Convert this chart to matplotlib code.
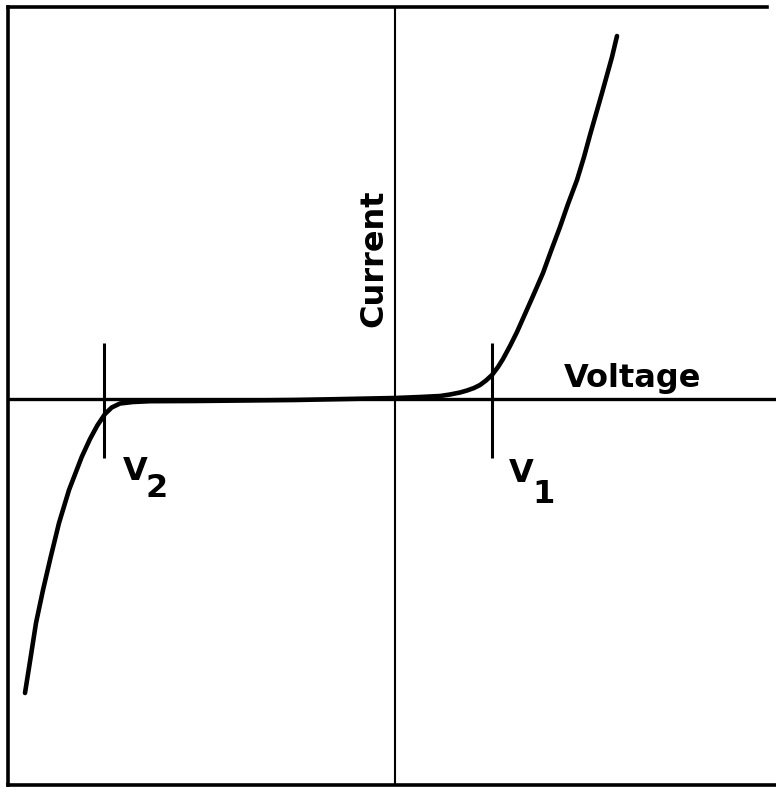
import matplotlib
matplotlib.use("Agg")
import matplotlib.pyplot as plt

# I-V curve of the device (arbitrary units), read point by point
voltage = [-3.70, -3.643, -3.59, -3.52, -3.443, -3.36, -3.26, -3.133,
           -3.05, -2.977, -2.90, -2.833, -2.75, -2.62, -2.45, -2.00,
           -1.00, 0.00, 0.25, 0.45, 0.55, 0.65, 0.72, 0.79, 0.85, 0.91,
           0.97, 1.03, 1.08, 1.15, 1.22, 1.30, 1.38, 1.48, 1.56, 1.65,
           1.73, 1.82, 1.89, 1.95, 2.01, 2.07, 2.12, 2.17, 2.22]
current = [-2.94, -2.58, -2.24, -1.91, -1.58, -1.24, -0.91, -0.58,
           -0.40, -0.265, -0.15, -0.085, -0.045, -0.03, -0.022, -0.02,
           -0.01, 0.01, 0.02, 0.03, 0.045, 0.065, 0.085, 0.11, 0.14,
           0.185, 0.24, 0.32, 0.40, 0.53, 0.67, 0.85, 1.03, 1.26, 1.48,
           1.72, 1.95, 2.19, 2.42, 2.64, 2.85, 3.06, 3.24, 3.42, 3.63]

# breakdown voltages marked on the curve
v_marks = [-2.91, 0.97]
v_labels = ["V", "V"]
v_subs = ["2", "1"]

x_label = "Voltage"
y_label = "Current"

fig = plt.figure(figsize=(7.76, 7.88), dpi=100)
ax = fig.add_axes([8 / 776, 3 / 788, 768 / 776, 778 / 788])
ax.set_xlim(-3.87, 3.81)
ax.set_ylim(-3.86, 3.92)
ax.set_xticks([])
ax.set_yticks([])

for side in ["left", "top", "bottom"]:
    ax.spines[side].set_linewidth(2.6)
ax.spines["right"].set_visible(False)
ax.spines["top"].set_bounds(-3.87, 3.72)

# axes through the origin
ax.axhline(0, color="black", lw=2.4, zorder=1)
ax.axvline(0, color="black", lw=1.5, zorder=1)

ax.plot(voltage, current, color="black", lw=3.3, solid_capstyle="round",
        solid_joinstyle="round", zorder=3)

ax.vlines(v_marks, -0.595, 0.555, color="black", lw=2.2, zorder=2)

font = dict(fontsize=23, fontweight="bold", family="DejaVu Sans")

# V2 and V1 labels with lowered digits
ax.text(-2.72, -0.81, v_labels[0], ha="left", va="baseline", **font)
ax.text(-2.49, -0.98, v_subs[0], ha="left", va="baseline", **font)
ax.text(1.14, -0.83, v_labels[1], ha="left", va="baseline", **font)
ax.text(1.37, -1.04, v_subs[1], ha="left", va="baseline", **font)

ax.text(1.69, 0.12, x_label, ha="left", va="baseline", **font)
ax.text(-0.13, 1.41, y_label, rotation=90, rotation_mode="anchor",
        ha="center", va="baseline", **font)

fig.savefig("out.png", dpi=100)
